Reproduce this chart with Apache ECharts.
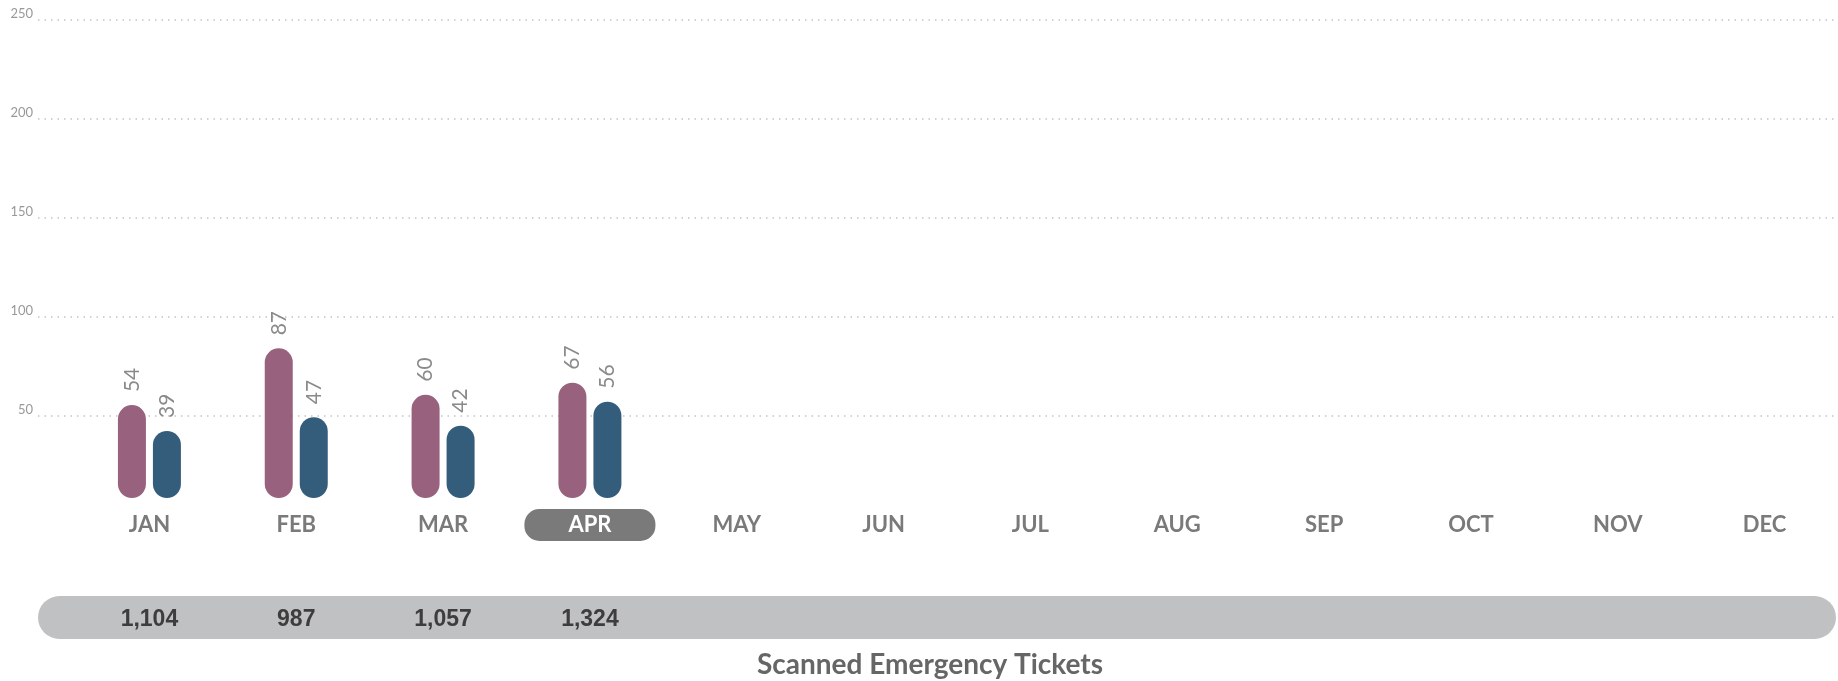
<!DOCTYPE html>
<html>
<head>
<meta charset="utf-8">
<script src="https://cdn.jsdelivr.net/npm/echarts@6/dist/echarts.min.js"></script>
<style>
html,body{margin:0;padding:0;background:#fff;}
#chart{width:1838px;height:681px;}
</style>
</head>
<body>
<div id="chart"></div>
<script>
const months = ['JAN','FEB','MAR','APR','MAY','JUN','JUL','AUG','SEP','OCT','NOV','DEC'];
const seriesPink = [54, 87, 60, 67];
const seriesBlue = [39, 47, 42, 56];
const totals = ['1,104', '987', '1,057', '1,324'];
const highlightMonth = 'APR';
const yTicks = {min: 0, max: 250, interval: 50};
const titleText = 'Scanned Emergency Tickets';

const chart = echarts.init(document.getElementById('chart'));

const valueLabel = {
  show: true, position: 'top', rotate: 90, align: 'left', verticalAlign: 'middle', distance: 13,
  color: '#8a8a8a', fontFamily: 'Lato, sans-serif', fontSize: 21
};

const option = {
  backgroundColor: '#ffffff',
  animation: false,
  grid: [
    {left: 38, right: 0, top: 20, bottom: 166},
    {left: 76, right: -5, top: 68, bottom: 183}
  ],
  xAxis: [
    {gridIndex: 0, type: 'category', data: months, show: false},
    {gridIndex: 1, type: 'category', data: months, boundaryGap: true,
     axisLine: {show: false}, axisTick: {show: false}, splitLine: {show: false},
     axisLabel: {
       margin: 17, interval: 0,
       formatter: function (val) { return val === highlightMonth ? '{hl|' + val + '}' : '{n|' + val + '}'; },
       rich: {
         n: {color: '#7a7a7a', fontFamily: 'Lato, sans-serif', fontWeight: 'bold', fontSize: 22, lineHeight: 20, padding: [5, 0]},
         hl: {color: '#ffffff', backgroundColor: '#7a7a7b', fontFamily: 'Lato, sans-serif', fontWeight: 'bold', fontSize: 22,
              lineHeight: 20, padding: [5, 44], borderRadius: 15}
       }
     }},
    {gridIndex: 1, type: 'category', data: months, boundaryGap: true, position: 'bottom', offset: 112,
     axisLine: {show: false}, axisTick: {show: false}, splitLine: {show: false},
     axisLabel: {
       margin: 0, interval: 0,
       formatter: function (val, idx) { return totals[idx] || ''; },
       color: '#3d3d3d', fontFamily: '"Liberation Sans Narrow", "Liberation Sans", sans-serif', fontWeight: 'bold', fontSize: 23, lineHeight: 20
     }}
  ],
  yAxis: [
    {gridIndex: 0, type: 'value', min: yTicks.min, max: yTicks.max, interval: yTicks.interval,
     axisLine: {show: false}, axisTick: {show: false},
     axisLabel: {showMinLabel: false, align: 'right', verticalAlign: 'bottom', margin: 5, color: '#999999',
                 fontFamily: 'Lato, sans-serif', fontSize: 13},
     splitLine: {show: true, showMinLine: false, lineStyle: {color: '#c4c4c4', width: 1.5, type: [1.5, 5]}}},
    {gridIndex: 1, type: 'value', min: yTicks.min, max: yTicks.max, interval: yTicks.interval, show: false,
     splitLine: {show: false}}
  ],
  graphic: [
    {type: 'rect', z: -1, shape: {x: 38, y: 596, width: 1798, height: 43, r: 21.5}, style: {fill: '#c0c1c3'}},
    {type: 'text', x: 930, y: 665, style: {text: titleText, fill: '#666666', font: 'bold 28px Lato, sans-serif',
     align: 'center', verticalAlign: 'middle'}}
  ],
  series: [
    {type: 'bar', xAxisIndex: 1, yAxisIndex: 1, data: seriesPink, barWidth: 28, barGap: '25%',
     itemStyle: {color: '#98627f', borderRadius: 14}, label: valueLabel},
    {type: 'bar', xAxisIndex: 1, yAxisIndex: 1, data: seriesBlue, barWidth: 28, barGap: '25%',
     itemStyle: {color: '#345d7b', borderRadius: 14}, label: valueLabel}
  ]
};
chart.setOption(option);
</script>
</body>
</html>
